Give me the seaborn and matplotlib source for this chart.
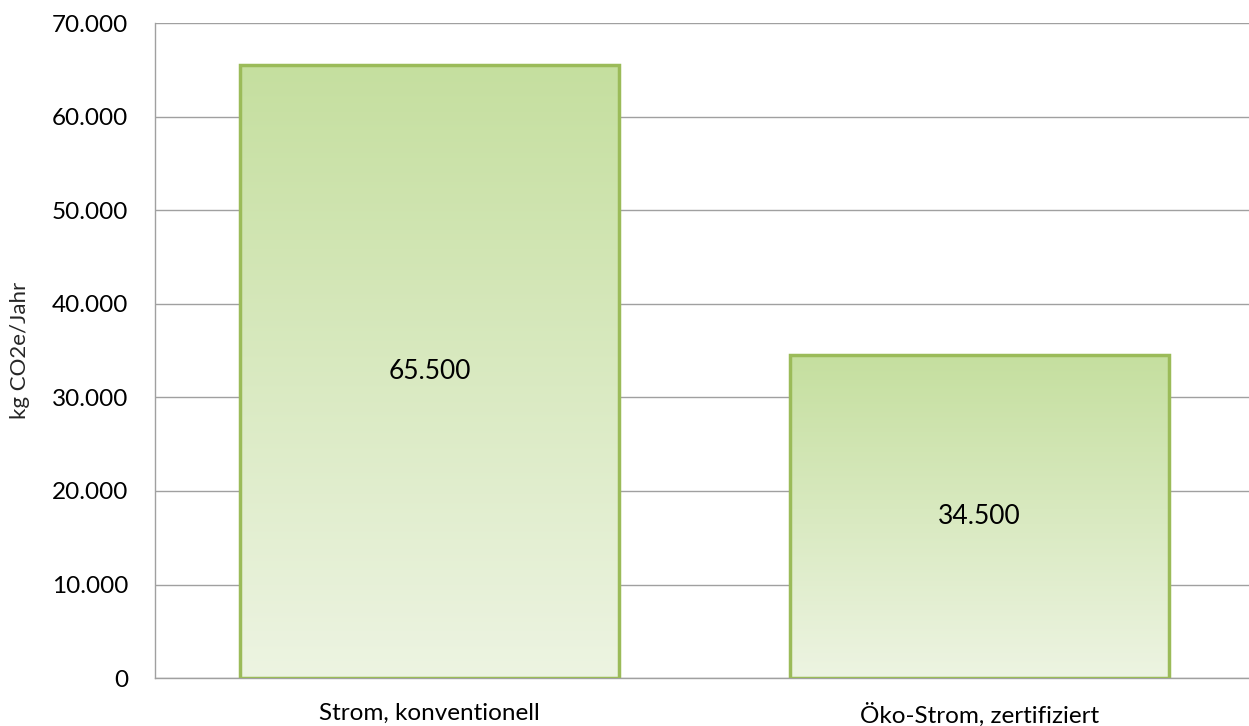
"""CO2-Bilanz Strom: konventionell vs. Öko-Strom als Balkendiagramm."""

import numpy as np
import pandas as pd
import matplotlib
matplotlib.use("Agg")
import matplotlib.pyplot as plt
import seaborn as sns
from matplotlib.colors import LinearSegmentedColormap
from matplotlib.ticker import FuncFormatter

categories = ["Strom, konventionell", "Öko-Strom, zertifiziert"]
values = [65500, 34500]
y_ticks = [0, 10000, 20000, 30000, 40000, 50000, 60000, 70000]
y_label = "kg CO2e/Jahr"

EDGE = "#9BBB59"
TOP = "#C5DF9F"
BOTTOM = "#EDF4E2"


def de_fmt(v, _pos=None):
    """Tausenderpunkt wie im deutschen Excel."""
    return f"{int(round(v)):,}".replace(",", ".")


sns.set_theme(style="white")
plt.rcParams["font.family"] = ["Lato", "DejaVu Sans"]

df = pd.DataFrame({"kategorie": categories, "wert": values})

fig, ax = plt.subplots(figsize=(12.49, 7.26), dpi=100)
fig.subplots_adjust(left=0.124, right=1.004, top=0.968, bottom=0.066)

sns.barplot(data=df, x="kategorie", y="wert", ax=ax, width=0.69,
            color=TOP, edgecolor=EDGE, linewidth=2.5, zorder=3)

# Farbverlauf in die Balken legen
cmap = LinearSegmentedColormap.from_list("grad", [BOTTOM, TOP])
grad = np.linspace(0, 1, 256).reshape(-1, 1)
for patch in ax.patches:
    x0, y0 = patch.get_x(), patch.get_y()
    w, h = patch.get_width(), patch.get_height()
    im = ax.imshow(grad, cmap=cmap, origin="lower", aspect="auto",
                   extent=(x0, x0 + w, y0, y0 + h), zorder=3.5)
    im.set_clip_path(patch)
    patch.set_facecolor("none")
    patch.set_zorder(4)

ax.set_xlim(-0.5, 1.5)
ax.set_ylim(0, 70000)

for i, v in enumerate(values):
    ax.text(i, v / 2, de_fmt(v), ha="center", va="center",
            fontsize=19, color="black", zorder=5)

ax.set_yticks(y_ticks)
ax.yaxis.set_major_formatter(FuncFormatter(de_fmt))
ax.yaxis.grid(True, color="#A0A0A0", linewidth=1)
ax.set_axisbelow(True)

ax.set_xlabel("")
ax.set_ylabel(y_label, fontsize=16, labelpad=16)
ax.tick_params(axis="y", labelsize=17.5, pad=19, length=0, labelcolor="black")
ax.tick_params(axis="x", labelsize=17.5, pad=18, length=0, labelcolor="black")

for side in ["top", "right"]:
    ax.spines[side].set_visible(False)
ax.spines["left"].set_color("#A0A0A0")
ax.spines["bottom"].set_color("#A0A0A0")
ax.spines["left"].set_linewidth(1)
ax.spines["bottom"].set_linewidth(1)

fig.savefig("out.png", dpi=100)
